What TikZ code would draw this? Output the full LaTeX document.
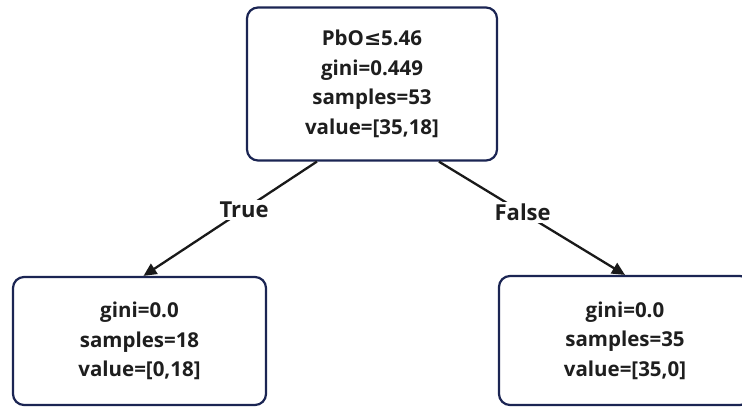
\documentclass[tikz,border=0pt]{standalone}
\usepackage{fontspec}
\setmainfont{Open Sans}
\newfontfamily\symfont{DejaVu Sans}
\usetikzlibrary{arrows.meta,calc}
\definecolor{boxline}{HTML}{1B2553}
\definecolor{txt}{HTML}{1E1E1E}
\begin{document}
\begin{tikzpicture}[x=1pt,y=-1pt,
  treebox/.style={draw=boxline, line width=2.2pt, rounded corners=11pt, fill=white,
    align=center, font=\fontsize{20.5}{29.5}\selectfont\bfseries, text=txt, inner sep=0pt},
  arr/.style={draw=black!90, line width=2.3pt, -{Triangle[length=13pt,width=12pt]}},
  elabel/.style={fill=white, inner sep=2pt, font=\fontsize{22}{25}\selectfont\bfseries, text=txt}]
\useasboundingbox (0,0) rectangle (742,407);
\clip (0,0) rectangle (742,407);
\node[treebox, minimum width=250pt, minimum height=153pt] (top) at (372,84)
  {PbO{\symfont\bfseries ≤}5.46\\gini=0.449\\samples=53\\value=[35,18]};
\node[treebox, minimum width=253pt, minimum height=128pt] (left) at (139.5,341)
  {gini=0.0\\samples=18\\value=[0,18]};
\node[treebox, minimum width=252pt, minimum height=129pt] (right) at (625,340.5)
  {gini=0.0\\samples=35\\value=[35,0]};
\draw[arr] ($(top.south west)+(71,0)$) -- node[elabel, pos=0.42] (tl) {True} ($(left.north)+(4,0)$);
\draw[arr] ($(top.south west)+(193,0)$) -- node[elabel, pos=0.45] (fl) {False} ($(right.north)+(0,0)$);
\end{tikzpicture}
\end{document}
